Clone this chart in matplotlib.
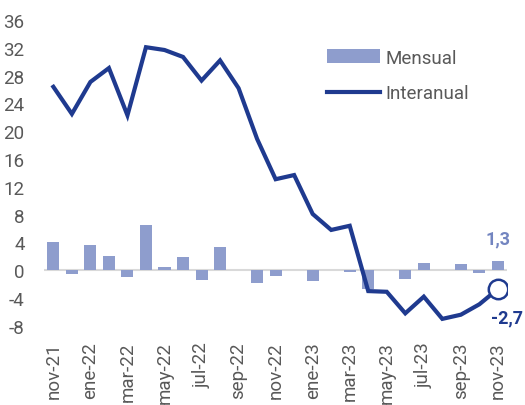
import numpy as np
import matplotlib
matplotlib.use("Agg")
import matplotlib.pyplot as plt

plt.rcParams['font.family'] = ['Roboto', 'DejaVu Sans']

meses = ["nov-21", "dic-21", "ene-22", "feb-22", "mar-22", "abr-22", "may-22",
         "jun-22", "jul-22", "ago-22", "sep-22", "oct-22", "nov-22", "dic-22",
         "ene-23", "feb-23", "mar-23", "abr-23", "may-23", "jun-23", "jul-23",
         "ago-23", "sep-23", "oct-23", "nov-23"]
mensual = [4.1, -0.6, 3.6, 2.1, -1.0, 6.5, 0.4, 1.9, -1.4, 3.3, 0.1, -1.9, -0.9,
           0.1, -1.6, 0.0, -0.25, -2.7, 0.1, -1.2, 1.1, 0.0, 0.9, -0.4, 1.3]
interanual = [26.4, 22.5, 27.1, 29.1, 22.3, 32.1, 31.7, 30.7, 27.3, 30.2, 26.2,
              18.9, 13.1, 13.7, 8.1, 5.8, 6.4, -3.0, -3.1, -6.2, -3.8, -7.0,
              -6.4, -4.9, -2.7]
yticks = [-8, -4, 0, 4, 8, 12, 16, 20, 24, 28, 32, 36]

c_line = "#1f3a8f"
c_bar = "#8e9dcd"
c_txt = "#595959"

fig = plt.figure(figsize=(5.25, 4.06), dpi=100)
ax = fig.add_axes([0.084, 0.195, 0.882, 0.753])

x = np.arange(len(meses))
ax.axhline(0, color="#d9d9d9", lw=1.5, zorder=1)
barras = ax.bar(x, mensual, width=0.65, color=c_bar, label="Mensual", zorder=2)
linea, = ax.plot(x, interanual, color=c_line, lw=3, label="Interanual", zorder=3,
                 solid_joinstyle="miter")
ax.plot(x[-1], interanual[-1], "o", ms=14, mfc="white", mec=c_line, mew=1.8, zorder=4)

ax.text(x[-1], mensual[-1] + 2.0, "1,3", color="#7385c0",
        fontsize=13, fontweight="bold", ha="center", va="bottom")
ax.text(x[-1] + 0.5, interanual[-1] - 2.8, "-2,7", color=c_line,
        fontsize=13, fontweight="bold", ha="center", va="top")

ax.set_xlim(-0.5, len(meses) - 0.5)
ax.set_ylim(-8, 36)
ax.set_yticks(yticks)
ax.set_yticklabels([str(v) for v in yticks])
ax.set_xticks(x[::2])
ax.set_xticklabels(meses[::2], rotation=90)
ax.tick_params(axis="both", length=0, labelsize=13.5, colors=c_txt)
ax.tick_params(axis="y", pad=14)
ax.tick_params(axis="x", pad=11)
for s in ax.spines.values():
    s.set_visible(False)

leg = ax.legend([barras, linea], ["Mensual", "Interanual"], loc="upper left",
                bbox_to_anchor=(0.623, 0.878),
                bbox_transform=fig.transFigure, frameon=False, fontsize=13.5,
                handlelength=2.8, handletextpad=0.3, labelspacing=0.95,
                borderpad=0, borderaxespad=0)
for t in leg.get_texts():
    t.set_color(c_txt)

fig.savefig("out.png", dpi=100)
